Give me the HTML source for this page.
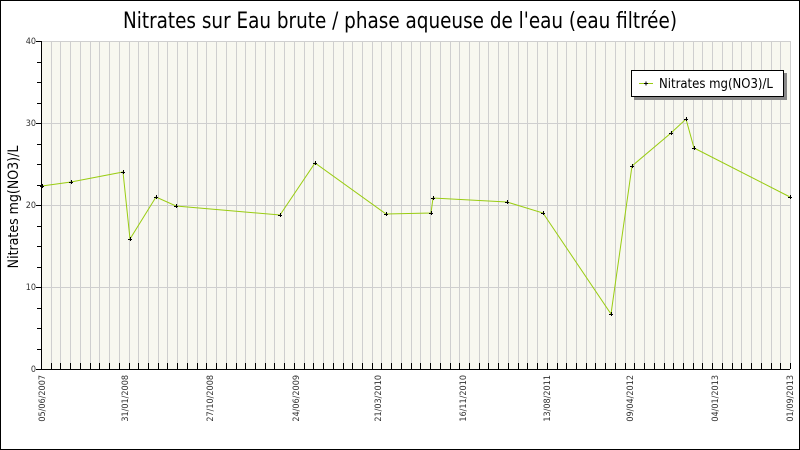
<!DOCTYPE html>
<html><head><meta charset="utf-8"><style>
html,body{margin:0;padding:0;background:#fff;}
svg{display:block;}
text{font-family:"DejaVu Sans Condensed","Liberation Sans",sans-serif;}
</style></head><body>
<svg width="800" height="450" viewBox="0 0 800 450" xmlns="http://www.w3.org/2000/svg">
<rect x="0.5" y="0.5" width="799" height="449" fill="#fff" stroke="#000"/>
<text x="400" y="28" text-anchor="middle" font-size="22" textLength="554" lengthAdjust="spacingAndGlyphs" fill="#000">Nitrates sur Eau brute / phase aqueuse de l'eau (eau filtrée)</text>
<rect x="41" y="41" width="749" height="328" fill="#f8f8f0"/>
<g id="vg" stroke="#cfcfcf" stroke-width="1"></g>
<g stroke="#cfcfcf" stroke-width="1">
<line x1="41" y1="41.5" x2="790" y2="41.5"/>
<line x1="41" y1="123.5" x2="790" y2="123.5"/>
<line x1="41" y1="205.5" x2="790" y2="205.5"/>
<line x1="41" y1="287.5" x2="790" y2="287.5"/>
</g>
<g id="ticks" stroke="#000" stroke-width="1"></g>
<line x1="41.5" y1="41" x2="41.5" y2="369" stroke="#000"/>
<line x1="41" y1="369.5" x2="790" y2="369.5" stroke="#000"/>
<g font-size="9" fill="#333" text-anchor="end">
<text x="36" y="44">40</text><text x="36" y="126">30</text><text x="36" y="208">20</text><text x="36" y="290">10</text><text x="36" y="372">0</text>
</g>
<text transform="translate(18,207) rotate(-90)" text-anchor="middle" font-size="14" fill="#000">Nitrates mg(NO3)/L</text>
<g font-size="9" fill="#333" text-anchor="end">
<text transform="translate(45,375) rotate(-90)">05/06/2007</text>
<text transform="translate(128,375) rotate(-90)">31/01/2008</text>
<text transform="translate(213,375) rotate(-90)">27/10/2008</text>
<text transform="translate(299,375) rotate(-90)">24/06/2009</text>
<text transform="translate(381,375) rotate(-90)">21/03/2010</text>
<text transform="translate(466,375) rotate(-90)">16/11/2010</text>
<text transform="translate(550,375) rotate(-90)">13/08/2011</text>
<text transform="translate(633,375) rotate(-90)">09/04/2012</text>
<text transform="translate(718,375) rotate(-90)">04/01/2013</text>
<text transform="translate(793,375) rotate(-90)">01/09/2013</text>
</g>
<polyline fill="none" stroke="#99cc11" stroke-width="1" points="42,186 71,182 123,172 130,239 156,197 176,206 280,215 315,163 386,214 431,213 433,198 507,202 543,213 611,314 632,166 671,133 686,119 694,148 790,197"/>
<g id="pts" stroke="#000" stroke-width="1"></g>
<rect x="634" y="73" width="153" height="27" fill="#888"/>
<rect x="631.5" y="70.5" width="152" height="26" fill="#fff" stroke="#000"/>
<line x1="639" y1="83.5" x2="653" y2="83.5" stroke="#99cc11"/>
<line x1="644" y1="83.5" x2="648" y2="83.5" stroke="#000"/>
<line x1="646" y1="81.5" x2="646" y2="85.5" stroke="#000"/>
<text x="659" y="88" font-size="13" fill="#000">Nitrates mg(NO3)/L</text>
<script>
var ns="http://www.w3.org/2000/svg";
function L(g,x1,y1,x2,y2){var l=document.createElementNS(ns,"line");l.setAttribute("x1",x1);l.setAttribute("y1",y1);l.setAttribute("x2",x2);l.setAttribute("y2",y2);g.appendChild(l);}
var vg=document.getElementById("vg"),tk=document.getElementById("ticks");
for(var i=1;i<=77;i++){var x=Math.round(41+i*749/77)+0.5;L(vg,x,41,x,369);L(tk,x,363,x,369);}
for(var j=0;j<=16;j++){var y=Math.round(369-j*20.5)+0.5;L(tk,(j%4==0)?36:37,y,41,y);}
var p=[[42,186],[71,182],[123,172],[130,239],[156,197],[176,206],[280,215],[315,163],[386,214],[431,213],[433,198],[507,202],[543,213],[611,314],[632,166],[671,133],[686,119],[694,148],[790,197]];
var pg=document.getElementById("pts");
p.forEach(function(q){L(pg,q[0]-2,q[1]+0.5,q[0]+2,q[1]+0.5);L(pg,q[0]+0.5,q[1]-2,q[0]+0.5,q[1]+2);});
</script>
</svg>
</body></html>
